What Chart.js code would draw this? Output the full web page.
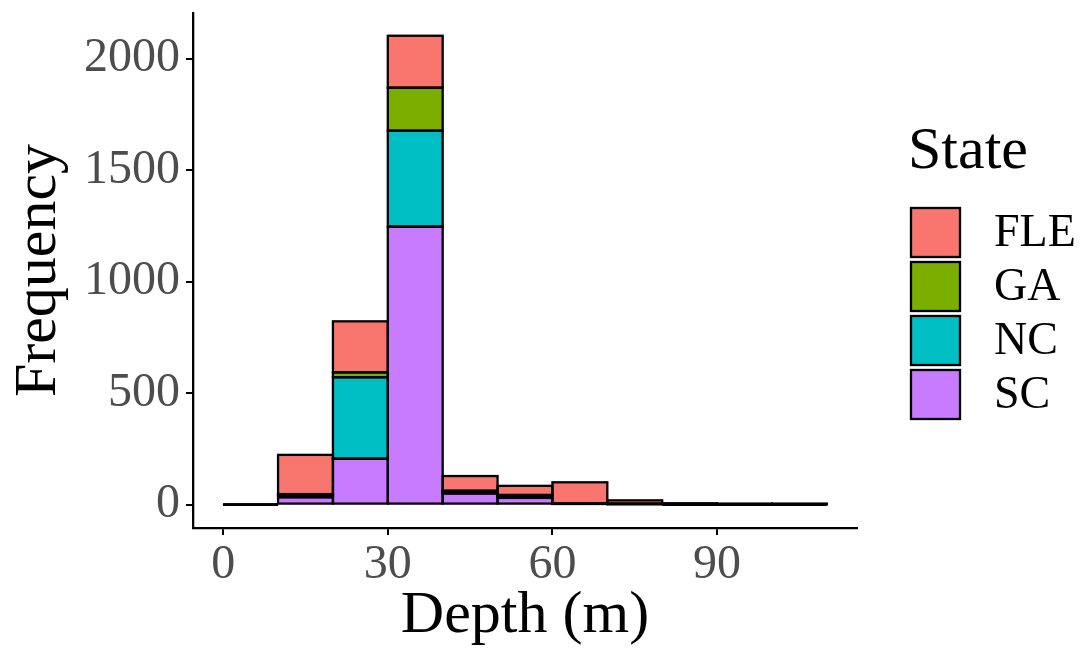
<!DOCTYPE html>
<html>
<head>
<meta charset="utf-8">
<script src="https://cdn.jsdelivr.net/npm/chart.js@4/dist/chart.umd.min.js"></script>
<style>
  html, body { margin: 0; padding: 0; background: #fff; }
  canvas { display: block; }
</style>
</head>
<body>
<canvas id="chart" width="1085" height="652"></canvas>
<script>
// bin centres (10 m wide bins from 0 to 110 m)
const binCentres = [5, 15, 25, 35, 45, 55, 65, 75, 85, 95, 105];
const states = ["SC", "NC", "GA", "FLE"];
const scCounts = [0, 33, 206, 1247, 50, 30, 3, 2, 0, 0, 0];
const ncCounts = [0, 10, 365, 430, 8, 9, 2, 1, 0, 0, 0];
const gaCounts = [0, 4, 22, 193, 4, 4, 0, 0, 0, 0, 0];
const fleCounts = [0, 176, 229, 233, 66, 41, 95, 16, 6, 3, 1];
const stateColors = { FLE: "#F8766D", GA: "#7CAE00", NC: "#00BFC4", SC: "#C77CFF" };
const xTicks = [0, 30, 60, 90];
const yTicks = [0, 500, 1000, 1500, 2000];

const FONT = "'Liberation Serif', 'Times New Roman', serif";
const seriesByState = { SC: scCounts, NC: ncCounts, GA: gaCounts, FLE: fleCounts };

const datasets = states.map(s => ({
  label: s,
  data: binCentres.map((c, i) => ({ x: c, y: seriesByState[s][i] })),
  backgroundColor: stateColors[s],
  borderWidth: 0,
  barPercentage: 1,
  categoryPercentage: 1
}));

// ggplot-style outlines, stroke centred on the bar edges
const outlinePlugin = {
  id: "outline",
  afterDatasetsDraw(chart) {
    const ctx = chart.ctx;
    ctx.save();
    ctx.strokeStyle = "#000";
    ctx.lineWidth = 2.3;
    chart.data.datasets.forEach((ds, di) => {
      const meta = chart.getDatasetMeta(di);
      meta.data.forEach(bar => {
        const p = bar.getProps(["x", "y", "base", "width"], true);
        const top = Math.min(p.y, p.base);
        ctx.strokeRect(p.x - p.width / 2, top, p.width, Math.abs(p.base - p.y));
      });
    });
    ctx.restore();
  }
};

// legend on the right, ggplot order (FLE on top)
const legendPlugin = {
  id: "stateLegend",
  afterDraw(chart) {
    const ctx = chart.ctx;
    ctx.save();
    ctx.fillStyle = "#000";
    ctx.textBaseline = "alphabetic";
    ctx.font = "60px " + FONT;
    ctx.fillText("State", 908, 168);
    const order = states.slice().reverse();
    ctx.font = "46px " + FONT;
    order.forEach((s, i) => {
      const top = 206 + i * 54;
      ctx.fillStyle = stateColors[s];
      ctx.fillRect(911, top + 2, 49, 49);
      ctx.strokeStyle = "#000";
      ctx.lineWidth = 2.3;
      ctx.strokeRect(911, top + 2, 49, 49);
      ctx.fillStyle = "#000";
      ctx.textBaseline = "middle";
      ctx.fillText(s, 994, top + 28);
    });
    ctx.restore();
  }
};

new Chart(document.getElementById("chart"), {
  type: "bar",
  data: { datasets },
  plugins: [outlinePlugin, legendPlugin],
  options: {
    responsive: false,
    devicePixelRatio: 1,
    animation: false,
    layout: { padding: { top: 13, right: 228, left: 0, bottom: 0 } },
    plugins: { legend: { display: false }, tooltip: { enabled: false } },
    scales: {
      x: {
        type: "linear",
        stacked: true,
        min: -5.5,
        max: 115.5,
        offset: false,
        afterBuildTicks: axis => { axis.ticks = xTicks.map(v => ({ value: v })); },
        afterFit: axis => { axis.height = 124; axis.paddingTop = 0; axis.paddingBottom = 0; },
        grid: { offset: false, drawOnChartArea: false, drawTicks: true, tickLength: 7, color: "#000", lineWidth: 2 },
        border: { display: true, color: "#000", width: 2.3 },
        ticks: { color: "#4D4D4D", font: { family: FONT, size: 48 }, padding: 2, maxRotation: 0, callback: v => String(v) },
        title: { display: true, text: "Depth (m)", color: "#000", font: { family: FONT, size: 60 }, padding: { top: 0, bottom: 0 } }
      },
      y: {
        stacked: true,
        min: -105,
        max: 2205,
        afterBuildTicks: axis => { axis.ticks = yTicks.map(v => ({ value: v })); },
        afterFit: axis => { axis.width = 193; axis.paddingTop = 0; axis.paddingBottom = 0; },
        grid: { offset: false, drawOnChartArea: false, drawTicks: true, tickLength: 7, color: "#000", lineWidth: 2 },
        border: { display: true, color: "#000", width: 2.3 },
        ticks: { color: "#4D4D4D", font: { family: FONT, size: 48 }, padding: 6, callback: v => String(v) },
        title: { display: true, text: "Frequency", color: "#000", font: { family: FONT, size: 60 }, padding: { top: 3, bottom: 4 } }
      }
    }
  }
});
</script>
</body>
</html>
